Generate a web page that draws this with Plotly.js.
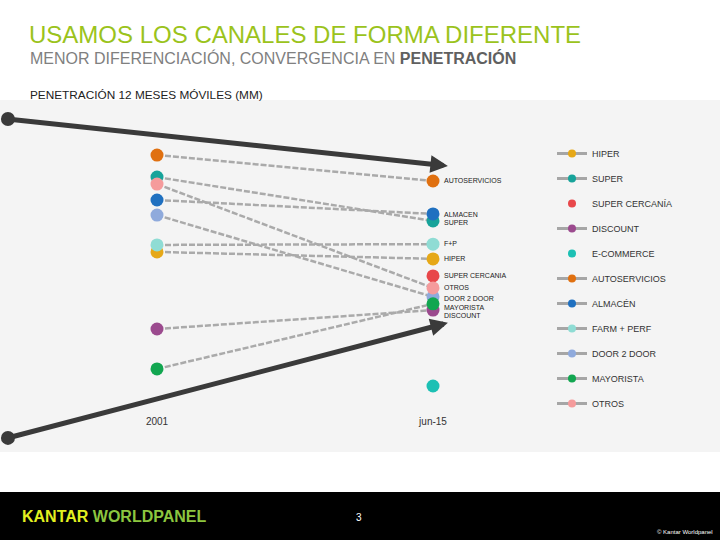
<!DOCTYPE html>
<html>
<head>
<meta charset="utf-8">
<script src="https://cdn.plot.ly/plotly-3.0.1.min.js"></script>
<style>
  html, body { margin: 0; padding: 0; background: #fff; }
  #chart { width: 720px; height: 540px; }
</style>
</head>
<body>
<div id="chart"></div>
<script>
// periods on the x axis
const periods = ['2001', 'jun-15'];

// channels, in legend order
const channels = ['HIPER', 'SUPER', 'SUPER CERCANÍA', 'DISCOUNT', 'E-COMMERCE', 'AUTOSERVICIOS',
    'ALMACÉN', 'FARM + PERF', 'DOOR 2 DOOR', 'MAYORISTA', 'OTROS'];
const channelColors = ['#e6a817', '#17a39a', '#e8474a', '#9b4a8e', '#1cc0b4', '#e07010',
    '#1f70c0', '#8fdcd4', '#8faadc', '#12a650', '#f59b9c'];

// penetration
const pen2001 = [50.8, 70.1, null, 30.9, null, 75.8, 64.2, 52.6, 60.3, 20.6, 68.3];
const penJun15 = [49.0, 58.8, 44.6, 35.8, 16.2, 69.1, 60.6, 52.8, 39.2, 37.4, 41.5];

// labels printed next to the jun-15 points
const pointLabels = ['HIPER', 'SUPER', 'SUPER CERCANIA', 'DISCOUNT', '', 'AUTOSERVICIOS',
    'ALMACEN', 'F+P', 'DOOR 2 DOOR', 'MAYORISTA', 'OTROS'];

// trend arrows (start, end)
const trendX = [-0.54, 1.054];
const trendTop = [85.1, 73.0];
const trendBottom = [2.8, 32.5];

const font = 'Liberation Sans, Arial, sans-serif';
const px = p => p / 720;
const py = p => (452 - p) / 352;

// little nudges so the labels don't overlap (pixels)
const labelShift = { 'SUPER': -2, 'DISCOUNT': -5, 'MAYORISTA': -4, 'DOOR 2 DOOR': -2, 'ALMACEN': -1, 'F+P': 1 };

const traces = [];

// dashed connectors
channels.forEach((c, i) => {
    if (pen2001[i] == null) return;
    traces.push({
        x: [0, 1], y: [pen2001[i], penJun15[i]],
        mode: 'lines', type: 'scatter', showlegend: false, hoverinfo: 'skip',
        line: { color: '#aaaaaa', width: 2.5, dash: '6px,2px' }
    });
});

// points
channels.forEach((c, i) => {
    const xs = [], ys = [];
    if (pen2001[i] != null) { xs.push(0); ys.push(pen2001[i]); }
    xs.push(1); ys.push(penJun15[i]);
    traces.push({
        x: xs, y: ys, mode: 'markers', type: 'scatter', showlegend: false,
        name: c, marker: { color: channelColors[i], size: 13 }
    });
});

// start dots of the trend arrows
traces.push({
    x: [trendX[0], trendX[0]], y: [trendTop[0], trendBottom[0]], mode: 'markers', type: 'scatter',
    showlegend: false, hoverinfo: 'skip', marker: { color: '#3a3a3a', size: 14 }
});

// legend entries
channels.forEach((c, i) => {
    const onlyPoint = pen2001[i] == null;
    traces.push({
        x: [null], y: [null], type: 'scatter', name: c, legendgroup: c,
        mode: onlyPoint ? 'markers' : 'lines+markers',
        line: { color: '#a6a6a6', width: 3 },
        marker: { color: channelColors[i], size: 8 }
    });
});

const annotations = [];

channels.forEach((c, i) => {
    if (!pointLabels[i]) return;
    annotations.push({
        x: 1, y: penJun15[i], xref: 'x', yref: 'y', text: pointLabels[i],
        showarrow: false, xanchor: 'left', xshift: 9, yshift: labelShift[pointLabels[i]] || 0,
        font: { family: font, size: 7, color: '#222' }
    });
});

// trend arrows
[trendTop, trendBottom].forEach(t => {
    annotations.push({
        x: trendX[1], y: t[1], ax: trendX[0], ay: t[0],
        xref: 'x', yref: 'y', axref: 'x', ayref: 'y', text: '', showarrow: true,
        arrowhead: 2, arrowsize: 0.7, arrowwidth: 5, arrowcolor: '#3a3a3a'
    });
});

annotations.push({
    xref: 'paper', yref: 'paper', x: px(28), y: py(58), xanchor: 'left', yanchor: 'middle',
    showarrow: false,
    text: 'MENOR DIFERENCIACIÓN, CONVERGENCIA EN <span style="color:#606060"><b>PENETRACIÓN</b></span>',
    font: { family: font, size: 16, color: '#808080' }
});
annotations.push({
    xref: 'paper', yref: 'paper', x: px(28), y: py(95), xanchor: 'left', yanchor: 'middle',
    showarrow: false, text: 'PENETRACIÓN 12 MESES MÓVILES (MM)',
    font: { family: font, size: 11.8, color: '#222' }
});
annotations.push({
    xref: 'paper', yref: 'paper', x: px(20), y: py(516), xanchor: 'left', yanchor: 'middle',
    showarrow: false,
    text: '<b>KANTAR</b> <span style="color:#8cc63f"><b>WORLDPANEL</b></span>',
    font: { family: font, size: 16, color: '#e2f020' }
});
annotations.push({
    xref: 'paper', yref: 'paper', x: px(359), y: py(517), xanchor: 'center', yanchor: 'middle',
    showarrow: false, text: '3', font: { family: font, size: 10, color: '#fff' }
});
annotations.push({
    xref: 'paper', yref: 'paper', x: px(715), y: py(532), xanchor: 'right', yanchor: 'middle',
    showarrow: false, text: '© Kantar Worldpanel', font: { family: font, size: 6, color: '#fff' }
});

const layout = {
    width: 720, height: 540,
    margin: { l: 0, r: 0, t: 100, b: 88 },
    paper_bgcolor: '#ffffff',
    plot_bgcolor: '#f4f4f4',
    font: { family: font, color: '#333' },
    title: {
        text: 'USAMOS LOS CANALES DE FORMA DIFERENTE',
        x: 29 / 720, xanchor: 'left', y: 1 - 35 / 540, yanchor: 'middle',
        font: { family: font, size: 24, color: '#9bc31c' }
    },
    xaxis: {
        range: [-157 / 276, (720 - 157) / 276],
        anchor: 'free', position: py(414),
        tickvals: [0, 1], ticktext: periods,
        showgrid: false, zeroline: false, showline: false, ticks: '',
        tickfont: { family: font, size: 10, color: '#333' },
        fixedrange: true
    },
    yaxis: { range: [10 - 42 / 3.875, 90], visible: false, fixedrange: true },
    showlegend: true,
    legend: {
        x: px(552), y: py(139), xanchor: 'left', yanchor: 'top',
        bgcolor: 'rgba(0,0,0,0)', traceorder: 'grouped', tracegroupgap: 6,
        itemwidth: 30, font: { family: font, size: 9, color: '#333' }
    },
    shapes: [
        { type: 'rect', xref: 'paper', yref: 'paper', x0: 0, x1: 1, y0: py(540), y1: py(492),
          fillcolor: '#000000', line: { width: 0 }, layer: 'below' }
    ],
    annotations: annotations
};

Plotly.newPlot('chart', traces, layout, { displayModeBar: false, staticPlot: true });
</script>
</body>
</html>
